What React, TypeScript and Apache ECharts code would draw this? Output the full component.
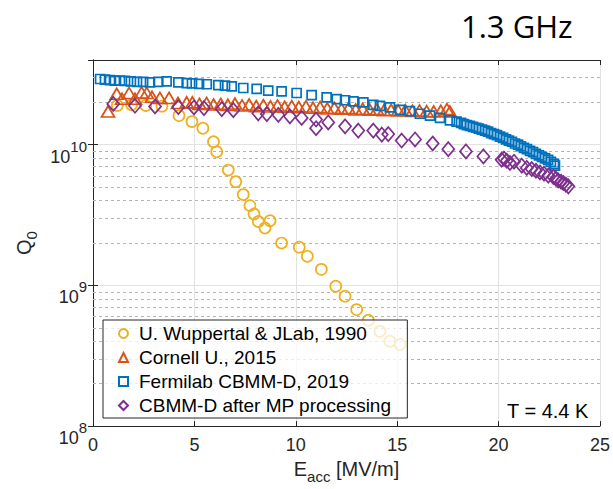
import React, { useEffect, useRef } from 'react';
import * as echarts from 'echarts';

// ---- Data (E_acc in MV/m, Q0) ----
const wuppertalE = [1.2, 1.9, 2.6, 3.4, 4.24, 4.88, 5.42, 5.94, 6.10, 6.67, 7.04, 7.41, 7.74, 7.94, 8.15, 8.48, 8.73, 9.30, 10.17, 10.57, 11.26, 11.97, 12.43, 13.0, 13.58, 14.15, 14.64, 15.14];
const wuppertalQ = [1.9e10, 1.92e10, 1.9e10, 1.88e10, 1.61e10, 1.46e10, 1.31e10, 1.05e10, 8.9e9, 6.6e9, 5.46e9, 4.42e9, 3.69e9, 3.22e9, 2.85e9, 2.56e9, 2.88e9, 2.0e9, 1.87e9, 1.61e9, 1.30e9, 9.86e8, 8.38e8, 6.73e8, 5.65e8, 4.72e8, 4.01e8, 3.8e8];

const cornellE = [0.74, 1.17, 1.43, 1.78, 2.07, 2.40, 2.65, 2.91, 3.30, 3.75, 4.19, 4.62, 4.9, 5.25, 5.6, 5.95, 6.3, 6.65, 7.0, 7.35, 7.7, 8.05, 8.4, 8.75, 9.1, 9.45, 9.8, 10.15, 10.5, 10.85, 11.2, 11.55, 11.9, 12.25, 12.6, 12.95, 13.3, 13.65, 14.0, 14.35, 14.7, 15.05, 15.4, 15.75, 16.1, 16.45, 16.8, 17.15, 17.45, 17.6];
const cornellQ = [1.72e10, 2.30e10, 2.12e10, 2.33e10, 2.12e10, 2.35e10, 2.33e10, 2.19e10, 2.15e10, 2.15e10, 1.98e10, 2.0e10, 2.0e10, 1.95e10, 1.98e10, 1.93e10, 1.95e10, 1.92e10, 1.96e10, 1.9e10, 1.93e10, 1.88e10, 1.91e10, 1.87e10, 1.9e10, 1.86e10, 1.88e10, 1.85e10, 1.87e10, 1.83e10, 1.85e10, 1.81e10, 1.83e10, 1.8e10, 1.82e10, 1.78e10, 1.8e10, 1.77e10, 1.79e10, 1.76e10, 1.77e10, 1.75e10, 1.76e10, 1.74e10, 1.75e10, 1.73e10, 1.72e10, 1.74e10, 1.79e10, 1.72e10];

const fermilabE = [0.35, 0.59, 0.84, 1.08, 1.33, 1.58, 1.87, 2.17, 2.47, 2.81, 3.22, 3.63, 4.21, 4.62, 4.88, 5.23, 5.61, 6.18, 6.51, 6.84, 7.41, 8.07, 8.64, 9.30, 10.04, 10.78, 11.52, 12.02, 12.43, 12.84, 13.33, 13.82, 14.15, 14.64, 15.14, 15.63, 16.12, 16.62, 17.11, 17.60, 17.93, 18.15, 18.29, 18.44, 18.59, 18.74, 18.89, 19.03, 19.18, 19.33, 19.48, 19.63, 19.77, 19.92, 20.07, 20.22, 20.37, 20.51, 20.66, 20.81, 20.96, 21.10, 21.25, 21.40, 21.55, 21.70, 21.84, 21.99, 22.14, 22.29, 22.44, 22.58, 22.73, 22.78];
const fermilabQ = [2.93e10, 2.90e10, 2.88e10, 2.85e10, 2.85e10, 2.84e10, 2.82e10, 2.80e10, 2.80e10, 2.77e10, 2.80e10, 2.82e10, 2.77e10, 2.74e10, 2.73e10, 2.71e10, 2.69e10, 2.65e10, 2.63e10, 2.60e10, 2.53e10, 2.49e10, 2.42e10, 2.39e10, 2.33e10, 2.25e10, 2.17e10, 2.11e10, 2.07e10, 2.03e10, 2.0e10, 1.92e10, 1.89e10, 1.84e10, 1.77e10, 1.73e10, 1.66e10, 1.61e10, 1.55e10, 1.49e10, 1.46e10, 1.43e10, 1.40e10, 1.38e10, 1.36e10, 1.34e10, 1.32e10, 1.30e10, 1.28e10, 1.26e10, 1.24e10, 1.21e10, 1.19e10, 1.17e10, 1.14e10, 1.12e10, 1.09e10, 1.07e10, 1.05e10, 1.02e10, 1.0e10, 9.75e9, 9.5e9, 9.3e9, 9.05e9, 8.85e9, 8.6e9, 8.4e9, 8.2e9, 8.0e9, 7.8e9, 7.55e9, 7.3e9, 7.1e9];

const mpE = [1.0, 2.07, 3.06, 4.21, 4.98, 5.47, 6.35, 6.92, 8.15, 8.57, 9.14, 9.71, 10.29, 11.0, 11.0, 11.60, 12.43, 13.08, 13.82, 14.24, 14.56, 15.22, 15.88, 16.75, 17.52, 18.39, 19.25, 20.15, 20.27, 20.40, 20.56, 20.76, 21.14, 21.39, 21.63, 21.84, 22.04, 22.24, 22.45, 22.70, 22.83, 22.94, 23.08, 23.19, 23.32, 23.44];
const mpQ = [1.95e10, 1.89e10, 1.87e10, 1.85e10, 1.84e10, 1.82e10, 1.79e10, 1.76e10, 1.67e10, 1.65e10, 1.63e10, 1.59e10, 1.55e10, 1.51e10, 1.31e10, 1.44e10, 1.35e10, 1.26e10, 1.26e10, 1.18e10, 1.19e10, 1.07e10, 1.09e10, 1.02e10, 9.3e9, 8.96e9, 8.26e9, 7.82e9, 7.96e9, 7.69e9, 7.41e9, 7.57e9, 7.1e9, 6.84e9, 6.72e9, 6.53e9, 6.35e9, 6.22e9, 6.03e9, 5.90e9, 5.74e9, 5.58e9, 5.46e9, 5.35e9, 5.2e9, 5.06e9];

const seriesNames = [
  'U. Wuppertal & JLab, 1990',
  'Cornell U., 2015',
  'Fermilab CBMM-D, 2019',
  'CBMM-D after MP processing',
];
const seriesColors = ['#EDB120', '#D95319', '#0072BD', '#7E2F8E'];

const xMin = 0;
const xMax = 25;
const xInterval = 5;
const yMin = 1e8;
const yMax = 4e10;
const decades = [1e8, 1e9, 1e10];
const mantissas = [2, 3, 4, 5, 6, 7, 8, 9];

const FONT = 'Liberation Sans, Arial, sans-serif';
const INK = '#262626';

const pairs = (xs: number[], ys: number[]) => xs.map((x, i) => [x, ys[i]]);

export default function App() {
  const ref = useRef<HTMLDivElement>(null);

  useEffect(() => {
    if (!ref.current) return;
    const chart = echarts.init(ref.current, undefined, { renderer: 'svg' });

    const minorVals: number[] = [];
    decades.forEach((d) => mantissas.forEach((m) => { if (d * m < yMax) minorVals.push(d * m); }));

    const symbols = ['circle', 'triangle', 'rect', 'diamond'];
    const sizes: any[] = [11, [13, 11], 9, [12, 14]];
    const datasets = [
      pairs(wuppertalE, wuppertalQ),
      pairs(cornellE, cornellQ),
      pairs(fermilabE, fermilabQ),
      pairs(mpE, mpQ),
    ];

    const scatterSeries = datasets.map((d, i) => ({
      type: 'scatter',
      name: seriesNames[i],
      data: d,
      symbol: symbols[i],
      symbolSize: sizes[i],
      z: 3 + i,
      itemStyle: {
        color: 'rgba(255,255,255,0)',
        borderColor: seriesColors[i],
        borderWidth: 1.7,
        opacity: 1,
      },
      emphasis: { disabled: true },
    }));

    const supRich = {
      base: { fontSize: 18, lineHeight: 18, padding: [12, 0, 0, 0], verticalAlign: 'top', color: INK },
      sup: { fontSize: 15, lineHeight: 15, padding: [3, 0, 0, 0], verticalAlign: 'top', color: INK },
    };
    const subRich = {
      main: { fontSize: 20, lineHeight: 20, verticalAlign: 'top', color: INK },
      sub: { fontSize: 15, lineHeight: 15, padding: [10, 0, 0, 0], verticalAlign: 'top', color: INK },
    };

    chart.setOption({
      animation: false,
      backgroundColor: '#ffffff',
      textStyle: { fontFamily: FONT },
      grid: { left: 93, right: 13, top: 60, bottom: 62, containLabel: false },
      legend: {
        orient: 'vertical',
        left: 103,
        top: 320,
        data: seriesNames.map((n, i) => ({ name: n, icon: symbols[i] })),
        itemWidth: 9,
        itemHeight: 9,
        itemGap: 5,
        padding: [4, 16, 3, 15],
        borderColor: '#262626',
        borderWidth: 1,
        borderRadius: 0,
        backgroundColor: 'rgba(255,255,255,0.75)',
        selectedMode: false,
        textStyle: { fontFamily: FONT, fontSize: 19, lineHeight: 19, color: '#000', padding: [0, 0, 0, 6] },
        z: 10,
      },
      xAxis: [
        {
          type: 'value',
          min: xMin,
          max: xMax,
          interval: xInterval,
          position: 'bottom',
          axisLine: { show: true, lineStyle: { color: INK, width: 1 } },
          axisTick: { show: true, inside: true, length: 5, lineStyle: { color: INK } },
          axisLabel: { fontSize: 18, color: INK, fontFamily: FONT, margin: 10 },
          splitLine: { show: true, lineStyle: { color: '#e2e2e2', width: 1 } },
          name: '{main|E}{sub|acc}{main| [MV/m]}',
          nameLocation: 'middle',
          nameGap: 30,
          nameTextStyle: { fontSize: 20, fontFamily: FONT, color: INK, rich: subRich },
        },
        {
          type: 'value',
          min: xMin,
          max: xMax,
          interval: xInterval,
          position: 'top',
          axisLine: { show: true, lineStyle: { color: INK, width: 1 } },
          axisTick: { show: true, inside: true, length: 5, lineStyle: { color: INK } },
          axisLabel: { show: false },
          splitLine: { show: false },
        },
      ],
      yAxis: [
        {
          type: 'log',
          logBase: 10,
          min: yMin,
          max: yMax,
          position: 'left',
          axisLine: { show: true, lineStyle: { color: INK, width: 1 } },
          axisTick: { show: true, inside: true, length: 5, lineStyle: { color: INK } },
          axisLabel: {
            margin: 6,
            fontSize: 18,
            fontFamily: FONT,
            color: INK,
            formatter: (v: number) => {
              const l = Math.log10(v);
              const e = Math.round(l);
              if (Math.abs(l - e) > 0.01) return '';
              return `{base|10}{sup|${e}}`;
            },
            rich: supRich,
          },
          splitLine: { show: true, lineStyle: { color: '#e2e2e2', width: 1 } },
          name: '{main|Q}{sub|0}',
          nameLocation: 'middle',
          nameRotate: 90,
          nameGap: 55,
          nameTextStyle: { fontSize: 20, fontFamily: FONT, color: INK, rich: subRich },
        },
        {
          type: 'log',
          logBase: 10,
          min: yMin,
          max: yMax,
          position: 'right',
          axisLine: { show: true, lineStyle: { color: INK, width: 1 } },
          axisTick: { show: true, inside: true, length: 5, lineStyle: { color: INK } },
          axisLabel: { show: false },
          splitLine: { show: false },
        },
      ],
      series: [
        {
          type: 'line',
          name: 'minor-grid',
          data: [],
          silent: true,
          z: 1,
          markLine: {
            silent: true,
            z: 1,
            symbol: ['none', 'none'],
            label: { show: false },
            lineStyle: { color: '#b4b4b4', width: 1, type: [3, 3] },
            emphasis: { disabled: true },
            data: minorVals.map((v) => ({ yAxis: v })),
          },
        },
        ...scatterSeries,
      ],
      graphic: [
        {
          type: 'text',
          left: 461,
          top: 10,
          style: { text: '1.3 GHz', fontSize: 31, fontFamily: 'Open Sans, Noto Sans, sans-serif', fill: '#000' },
        },
        {
          type: 'text',
          left: 507,
          top: 401,
          z: 20,
          style: { text: 'T = 4.4 K', fontSize: 20, fontFamily: FONT, fill: '#000' },
        },
      ],
    });

    return () => chart.dispose();
  }, []);

  return <div ref={ref} style={{ width: 613, height: 489, position: 'absolute', left: 0, top: 0 }} />;
}
